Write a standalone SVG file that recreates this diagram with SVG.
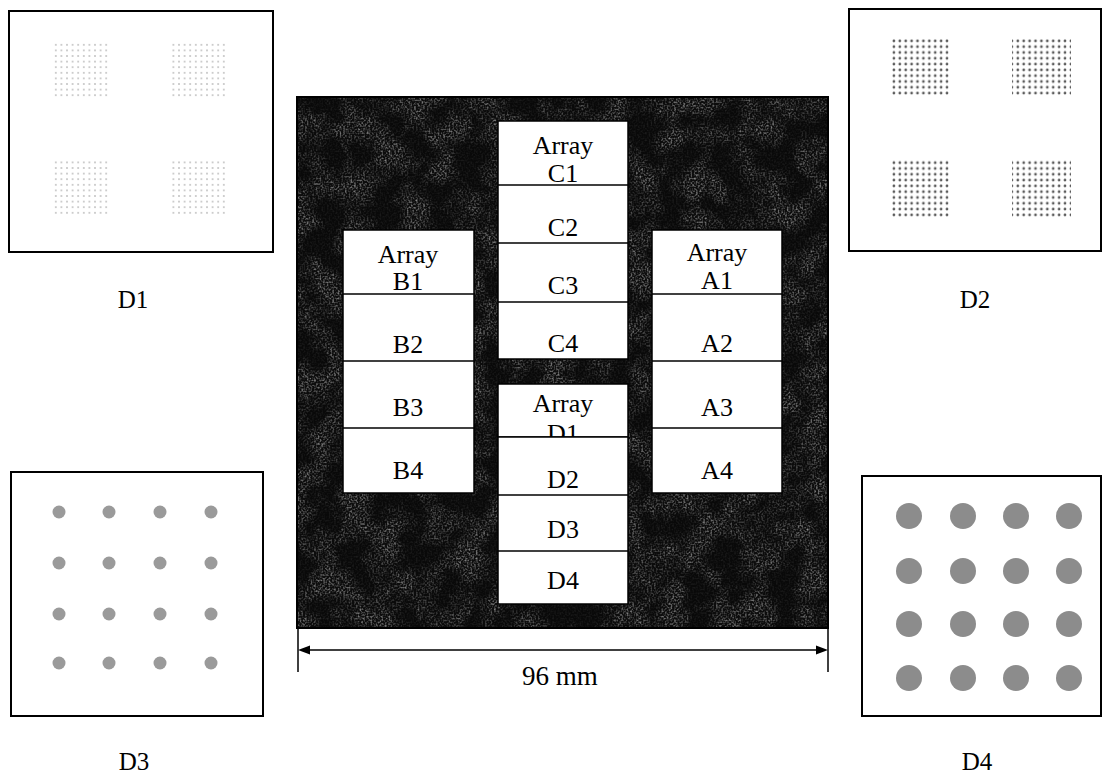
<svg xmlns="http://www.w3.org/2000/svg" width="1108" height="779" viewBox="0 0 1108 779">
<style>
.lbl{font-family:"Liberation Serif","Times New Roman",serif;font-size:26px;fill:#000;text-anchor:middle}
.cap{font-family:"Liberation Serif","Times New Roman",serif;font-size:25px;fill:#000;text-anchor:middle}
.panel{fill:#fff;stroke:#000;stroke-width:2}
.box{fill:#fff;stroke:#000;stroke-width:1.5}
.div{stroke:#000;stroke-width:1.5}
.spot3{fill:#9a9a9a}
.spot4{fill:#8c8c8c}
</style>
<defs>
<filter id="speckle" x="0" y="0" width="100%" height="100%" color-interpolation-filters="sRGB">
<feTurbulence type="fractalNoise" baseFrequency="0.55" numOctaves="1" seed="4" result="fine"/>
<feColorMatrix in="fine" type="matrix" values="2.2 0 0 0 -0.95  2.2 0 0 0 -0.95  2.2 0 0 0 -0.95  0 0 0 0 1" result="f2"/>
<feTurbulence type="fractalNoise" baseFrequency="0.035" numOctaves="3" seed="9" result="coarse"/>
<feColorMatrix in="coarse" type="matrix" values="3 0 0 0 -1.1  3 0 0 0 -1.1  3 0 0 0 -1.1  0 0 0 0 1" result="c2"/>
<feComposite in="f2" in2="c2" operator="arithmetic" k1="0.65" k2="0.12" k3="0.02" k4="0.05"/>
</filter>
<pattern id="dotsD1" x="53" y="42" width="5.6" height="5.6" patternUnits="userSpaceOnUse">
<circle cx="2.8" cy="2.8" r="0.75" fill="#8a8a8a"/>
</pattern>
<pattern id="dotsD2" x="891" y="38" width="5.9" height="5.8" patternUnits="userSpaceOnUse">
<circle cx="2.9" cy="2.9" r="1.35" fill="#5a5a5a"/>
</pattern>
</defs>
<rect width="1108" height="779" fill="#fff"/>

<g id="panel-D1">
<rect class="panel" x="9" y="11" width="264" height="241"/>
<rect x="53" y="42" width="56" height="56" fill="url(#dotsD1)"/>
<rect x="172" y="42" width="56" height="56" fill="url(#dotsD1)"/>
<rect x="53" y="160" width="56" height="56" fill="url(#dotsD1)"/>
<rect x="172" y="160" width="56" height="56" fill="url(#dotsD1)"/>
<text class="cap" x="133" y="308">D1</text>
</g>

<g id="panel-D2">
<rect class="panel" x="849" y="9" width="252" height="242"/>
<rect x="891" y="38" width="59" height="58" fill="url(#dotsD2)"/>
<rect x="1012" y="38" width="59" height="58" fill="url(#dotsD2)"/>
<rect x="891" y="160" width="59" height="58" fill="url(#dotsD2)"/>
<rect x="1012" y="160" width="59" height="58" fill="url(#dotsD2)"/>
<text class="cap" x="975" y="308">D2</text>
</g>

<g id="panel-D3">
<rect class="panel" x="11" y="472" width="252" height="244"/>
<g class="spot3">
<circle cx="59" cy="512" r="6.5"/><circle cx="109" cy="512" r="6.5"/><circle cx="160" cy="512" r="6.5"/><circle cx="211" cy="512" r="6.5"/>
<circle cx="59" cy="563" r="6.5"/><circle cx="109" cy="563" r="6.5"/><circle cx="160" cy="563" r="6.5"/><circle cx="211" cy="563" r="6.5"/>
<circle cx="59" cy="614" r="6.5"/><circle cx="109" cy="614" r="6.5"/><circle cx="160" cy="614" r="6.5"/><circle cx="211" cy="614" r="6.5"/>
<circle cx="59" cy="663" r="6.5"/><circle cx="109" cy="663" r="6.5"/><circle cx="160" cy="663" r="6.5"/><circle cx="211" cy="663" r="6.5"/>
</g>
<text class="cap" x="134" y="770">D3</text>
</g>

<g id="panel-D4">
<rect class="panel" x="862" y="476" width="239" height="240"/>
<g class="spot4">
<circle cx="909" cy="516" r="13"/><circle cx="963" cy="516" r="13"/><circle cx="1016" cy="516" r="13"/><circle cx="1069" cy="516" r="13"/>
<circle cx="909" cy="571" r="13"/><circle cx="963" cy="571" r="13"/><circle cx="1016" cy="571" r="13"/><circle cx="1069" cy="571" r="13"/>
<circle cx="909" cy="624" r="13"/><circle cx="963" cy="624" r="13"/><circle cx="1016" cy="624" r="13"/><circle cx="1069" cy="624" r="13"/>
<circle cx="909" cy="678" r="13"/><circle cx="963" cy="678" r="13"/><circle cx="1016" cy="678" r="13"/><circle cx="1069" cy="678" r="13"/>
</g>
<text class="cap" x="977" y="770">D4</text>
</g>

<g id="slide">
<rect x="297" y="97" width="531" height="531" fill="#000"/>
<rect x="297" y="97" width="531" height="531" fill="#202020" filter="url(#speckle)" opacity="0.75"/>
<rect x="297" y="97" width="531" height="531" fill="none" stroke="#000" stroke-width="2"/>
</g>

<g id="array-C">
<rect class="box" x="498" y="121" width="130" height="238"/>
<line class="div" x1="498" y1="185" x2="628" y2="185"/>
<line class="div" x1="498" y1="243" x2="628" y2="243"/>
<line class="div" x1="498" y1="302" x2="628" y2="302"/>
<text class="lbl" x="563" y="154">Array</text>
<text class="lbl" x="563" y="182">C1</text>
<text class="lbl" x="563" y="236">C2</text>
<text class="lbl" x="563" y="294">C3</text>
<text class="lbl" x="563" y="352">C4</text>
</g>

<g id="array-B">
<rect class="box" x="343" y="230" width="131" height="263"/>
<line class="div" x1="343" y1="294" x2="474" y2="294"/>
<line class="div" x1="343" y1="361" x2="474" y2="361"/>
<line class="div" x1="343" y1="428" x2="474" y2="428"/>
<text class="lbl" x="408" y="263">Array</text>
<text class="lbl" x="408" y="290">B1</text>
<text class="lbl" x="408" y="353">B2</text>
<text class="lbl" x="408" y="416">B3</text>
<text class="lbl" x="408" y="479">B4</text>
</g>

<g id="array-A">
<rect class="box" x="652" y="230" width="130" height="263"/>
<line class="div" x1="652" y1="294" x2="782" y2="294"/>
<line class="div" x1="652" y1="361" x2="782" y2="361"/>
<line class="div" x1="652" y1="428" x2="782" y2="428"/>
<text class="lbl" x="717" y="261">Array</text>
<text class="lbl" x="717" y="289">A1</text>
<text class="lbl" x="717" y="352">A2</text>
<text class="lbl" x="717" y="416">A3</text>
<text class="lbl" x="717" y="479">A4</text>
</g>

<g id="array-D">
<rect class="box" x="498" y="384" width="130" height="53"/>
<text class="lbl" x="563" y="412">Array</text>
<text class="lbl" x="563" y="442">D1</text>
<rect class="box" x="498" y="437" width="130" height="167"/>
<line class="div" x1="498" y1="495" x2="628" y2="495"/>
<line class="div" x1="498" y1="551" x2="628" y2="551"/>
<text class="lbl" x="563" y="488">D2</text>
<text class="lbl" x="563" y="538">D3</text>
<text class="lbl" x="563" y="589">D4</text>
</g>

<g id="connectors">
<line x1="298" y1="628" x2="298" y2="672" stroke="#000" stroke-width="1.5"/>
<line x1="828" y1="628" x2="828" y2="672" stroke="#000" stroke-width="1.5"/>
<line x1="306" y1="650" x2="820" y2="650" stroke="#000" stroke-width="1.5"/>
<polygon points="298,650 310,645.5 310,654.5" fill="#000"/>
<polygon points="828,650 816,645.5 816,654.5" fill="#000"/>
<text class="cap" x="560" y="685" style="font-size:27px">96 mm</text>
</g>
</svg>
